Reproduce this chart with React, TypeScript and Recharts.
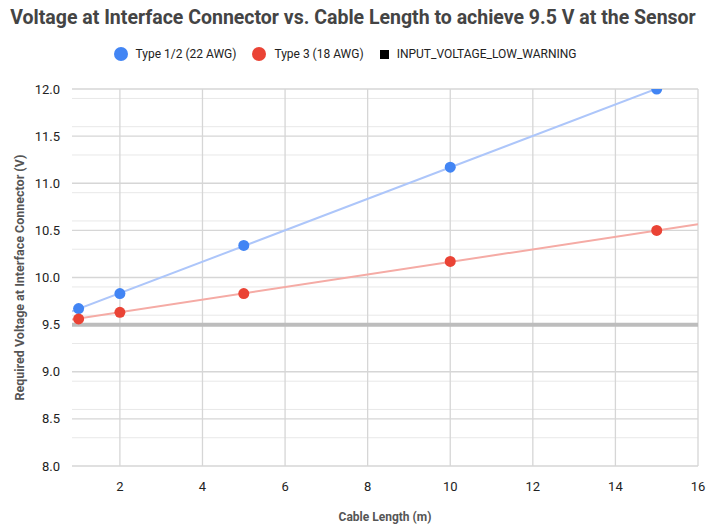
import React from 'react';
import {
  CartesianGrid,
  ReferenceLine,
  Scatter,
  ScatterChart,
  XAxis,
  YAxis,
} from 'recharts';

const type12 = [
  { x: 1, y: 9.67 },
  { x: 2, y: 9.83 },
  { x: 5, y: 10.34 },
  { x: 10, y: 11.17 },
  { x: 15, y: 12.0 },
];
const type3 = [
  { x: 1, y: 9.56 },
  { x: 2, y: 9.63 },
  { x: 5, y: 9.83 },
  { x: 10, y: 10.17 },
  { x: 15, y: 10.5 },
];
// trendline ends, read at the plot edges
const trend12 = [
  { x: 0.84, y: 9.64 },
  { x: 16, y: 12.17 },
];
const trend3 = [
  { x: 0.84, y: 9.555 },
  { x: 16, y: 10.565 },
];
const warningLevel = 9.5;

const xTicks = [2, 4, 6, 8, 10, 12, 14, 16];
const yTicks = [8, 8.5, 9, 9.5, 10, 10.5, 11, 11.5, 12];
const yMinor = [
  8.1, 8.2, 8.3, 8.4, 8.6, 8.7, 8.8, 8.9, 9.1, 9.2, 9.3, 9.4, 9.6, 9.7, 9.8, 9.9,
  10.1, 10.2, 10.3, 10.4, 10.6, 10.7, 10.8, 10.9, 11.1, 11.2, 11.3, 11.4, 11.6,
  11.7, 11.8, 11.9,
];

const BLUE = '#4285f4';
const RED = '#ea4335';
const FONT = 'Roboto, Arial, sans-serif';

const legendItems = [
  { name: 'Type 1/2 (22 AWG)', color: BLUE, shape: 'circle' },
  { name: 'Type 3 (18 AWG)', color: RED, shape: 'circle' },
  { name: 'INPUT_VOLTAGE_LOW_WARNING', color: '#000', shape: 'square' },
];

const noDot = () => null;
const dot = (props: any) => <circle cx={props.cx} cy={props.cy} r={5.5} fill={props.fill} />;

export default function App() {
  return (
    <div style={{ position: 'absolute', left: 0, top: 0, width: 706, height: 524, background: '#fff', fontFamily: FONT }}>
      <div
        style={{
          position: 'absolute',
          left: 0,
          top: 6,
          width: 706,
          textAlign: 'center',
          fontSize: 19.5,
          fontWeight: 'bold',
          color: '#444',
        }}
      >
        Voltage at Interface Connector vs. Cable Length to achieve 9.5 V at the Sensor
      </div>
      <div
        style={{
          position: 'absolute',
          left: 0,
          top: 47,
          width: 706,
          display: 'flex',
          justifyContent: 'center',
          fontSize: 12,
          color: '#222',
        }}
      >
        {legendItems.map((it) => (
          <div key={it.name} style={{ display: 'flex', alignItems: 'center', marginRight: 16 }}>
            <span
              style={{
                display: 'inline-block',
                width: it.shape === 'circle' ? 14 : 9,
                height: it.shape === 'circle' ? 14 : 9,
                borderRadius: it.shape === 'circle' ? '50%' : 0,
                background: it.color,
                marginRight: 8,
              }}
            />
            <span>{it.name}</span>
          </div>
        ))}
      </div>
      <ScatterChart
        width={706}
        height={524}
        margin={{ top: 89, right: 8, bottom: 0, left: 0 }}
        style={{ position: 'absolute', left: 0, top: 0 }}
      >
        <CartesianGrid horizontalValues={yMinor} vertical={false} stroke="#e8e8e8" strokeWidth={1} />
        <CartesianGrid horizontalValues={yTicks} verticalValues={xTicks} stroke="#d6d6d6" strokeWidth={1.3} />
        <XAxis
          type="number"
          dataKey="x"
          domain={[0.84, 16]}
          ticks={xTicks}
          allowDataOverflow
          axisLine={false}
          tickLine={false}
          height={58}
          tick={{ fontSize: 13, fill: '#222', fontFamily: FONT }}
          tickMargin={10}
          label={{
            value: 'Cable Length (m)',
            position: 'insideBottom',
            offset: 3,
            style: { fontSize: 12, fill: '#555', fontFamily: FONT, fontWeight: 'bold' },
          }}
        />
        <YAxis
          type="number"
          dataKey="y"
          domain={[8, 12]}
          ticks={yTicks}
          allowDataOverflow
          axisLine={false}
          tickLine={false}
          width={72}
          tickFormatter={(v: number) => v.toFixed(1)}
          tick={{ fontSize: 13, fill: '#222', fontFamily: FONT }}
          tickMargin={6}
          label={{
            value: 'Required Voltage at Interface Connector (V)',
            angle: -90,
            position: 'insideLeft',
            offset: 20,
            style: { textAnchor: 'middle', fontSize: 12.5, fill: '#555', fontFamily: FONT, fontWeight: 'bold' },
          }}
        />
        <ReferenceLine y={warningLevel} stroke="#bdbdbd" strokeWidth={4} ifOverflow="hidden" />
        <Scatter
          data={trend12}
          line={{ stroke: '#adc6fa', strokeWidth: 2 }}
          shape={noDot}
          isAnimationActive={false}
        />
        <Scatter
          data={trend3}
          line={{ stroke: '#f5aba5', strokeWidth: 2 }}
          shape={noDot}
          isAnimationActive={false}
        />
        <Scatter data={type12} fill={BLUE} shape={dot} isAnimationActive={false} />
        <Scatter data={type3} fill={RED} shape={dot} isAnimationActive={false} />
      </ScatterChart>
    </div>
  );
}
